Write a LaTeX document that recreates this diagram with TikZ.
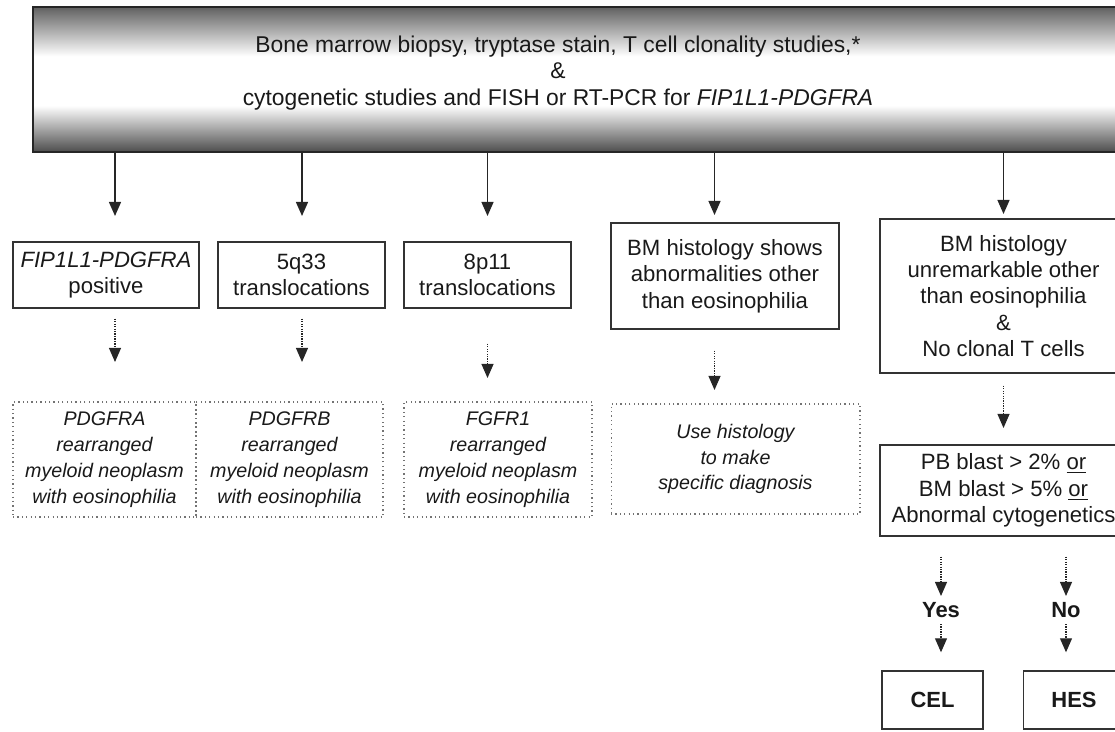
\documentclass[tikz,border=0pt]{standalone}
\usepackage{fontspec}
\setmainfont{Liberation Sans}
\usetikzlibrary{arrows.meta}

\pgfdeclareverticalshading{topfade}{100bp}{color(0bp)=(black!70); color(25bp)=(black!70); color(41bp)=(white); color(58bp)=(white); color(75bp)=(black!62); color(100bp)=(black!62)}

\begin{document}
\begin{tikzpicture}[x=0.02cm, y=-0.02cm,
	every node/.style={font=\fontsize{12.6}{15}\selectfont, text=black!90, align=center, inner sep=0pt},
	>={Triangle[length=8pt, width=6.8pt]},
	topbox/.style={draw=black!85, line width=0.8pt, shade, shading=topfade, minimum width=21.84cm, minimum height=2.9cm},
	solidbox/.style={draw=black!80, line width=0.8pt},
	dotbox/.style={draw=black!55, line width=0.6pt, dash pattern=on 0.7pt off 1.8pt, font=\fontsize{11.2}{14.7}\selectfont\itshape},
	boldbox/.style={draw=black!80, line width=0.8pt, font=\fontsize{12.5}{15}\selectfont\bfseries, minimum width=2.02cm, minimum height=1.16cm},
	arr/.style={->, draw=black!85, line width=0.9pt},
	darr/.style={->, draw=black!85, line width=0.7pt, dash pattern=on 0.7pt off 0.7pt}]
	\clip (0,0) rectangle (1115,731);
	\node[topbox] (topbox) at (579,79.5) {};
	\node[font=\fontsize{13}{15.2}\selectfont] (toptext) at (558,73) {Bone marrow biopsy, tryptase stain, T cell clonality studies,*\\ \&\\ cytogenetic studies and FISH or RT-PCR for \textit{FIP1L1-PDGFRA}};

	\node[solidbox, minimum width=3.72cm, minimum height=1.32cm] (box1) at (106,275) {\textit{FIP1L1-PDGFRA}\\ positive};
	\node[solidbox, minimum width=3.34cm, minimum height=1.32cm] (box2) at (301.5,275) {5q33\\ translocations};
	\node[solidbox, minimum width=3.34cm, minimum height=1.32cm] (box3) at (487.5,275) {8p11\\ translocations};
	\node[solidbox, minimum width=4.56cm, minimum height=2.12cm] (box4) at (725,276) {BM histology shows\\ abnormalities other\\ than eosinophilia};
	\node[solidbox, minimum width=4.94cm, minimum height=3.08cm] (box5) at (1003.5,296) {BM histology\\ unremarkable other\\ than eosinophilia\\ \&\\ No clonal T cells};

	\node[dotbox, minimum width=3.66cm, minimum height=2.3cm] (dbox1) at (104.5,459.5) {PDGFRA\\ rearranged\\ myeloid neoplasm\\ with eosinophilia};
	\node[dotbox, minimum width=3.74cm, minimum height=2.3cm] (dbox2) at (289.5,459.5) {PDGFRB\\ rearranged\\ myeloid neoplasm\\ with eosinophilia};
	\node[dotbox, minimum width=3.76cm, minimum height=2.3cm] (dbox3) at (498,459.5) {FGFR1\\ rearranged\\ myeloid neoplasm\\ with eosinophilia};
	\node[dotbox, minimum width=4.98cm, minimum height=2.2cm] (dbox4) at (735.5,459) {Use histology\\ to make\\ specific diagnosis};

	\node[solidbox, minimum width=4.94cm, minimum height=1.82cm] (pbbox) at (1003.5,490.5) {PB blast > 2\% \underline{or}\\ BM blast > 5\% \underline{or}\\ Abnormal cytogenetics};
	\node[font=\fontsize{12.5}{15}\selectfont\bfseries] (yes) at (941,610) {Yes};
	\node[font=\fontsize{12.5}{15}\selectfont\bfseries] (no) at (1066,610) {No};
	\node[boldbox] (cel) at (932.5,700) {CEL};
	\node[boldbox] (hes) at (1074,700) {HES};

	\coordinate (a1) at (115,216);
	\coordinate (a2) at (302,216);
	\coordinate (a3) at (487.5,216);
	\coordinate (a4) at (714.5,215);
	\coordinate (a5) at (1003.5,214);
	\foreach \a in {a1,a2,a3,a4,a5}
		\draw[arr] (topbox.south -| \a) -- (\a);

	\coordinate (d1) at (115,362);
	\coordinate (d2) at (302,362);
	\coordinate (d3) at (487.5,378);
	\coordinate (d4) at (714.5,390);
	\coordinate (d5) at (1003.5,428);
	\draw[darr, shorten <=0.2cm] (box1.south -| d1) -- (d1);
	\draw[darr, shorten <=0.2cm] (box2.south -| d2) -- (d2);
	\draw[darr, shorten <=0.7cm] (box3.south -| d3) -- (d3);
	\draw[darr, shorten <=0.42cm] (box4.south -| d4) -- (d4);
	\draw[darr, shorten <=0.24cm] (box5.south -| d5) -- (d5);

	\draw[darr, shorten <=0.4cm, shorten >=0.12cm] (pbbox.south -| yes) -- (yes.north);
	\draw[darr, shorten <=0.4cm, shorten >=0.12cm] (pbbox.south -| no) -- (no.north);
	\draw[darr, shorten <=0.12cm, shorten >=0.36cm] (yes.south) -- (yes |- cel.north);
	\draw[darr, shorten <=0.12cm, shorten >=0.36cm] (no.south) -- (no |- hes.north);
\end{tikzpicture}
\end{document}
